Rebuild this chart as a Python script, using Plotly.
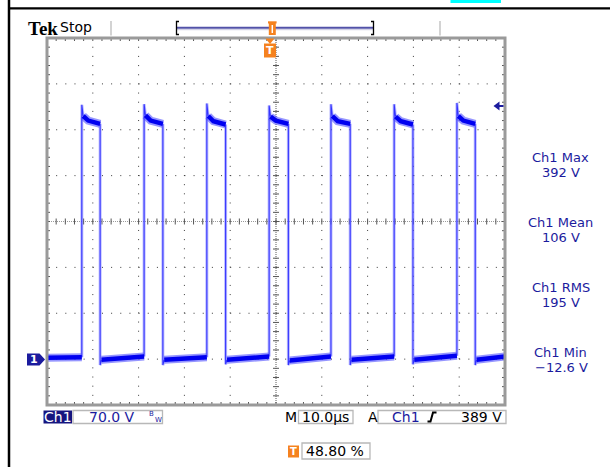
import plotly.graph_objects as go

# ---------------- data read from the scope screen ----------------
# time in microseconds (screen = 10 div x 10 us), voltage in volts (70 V/div)
rise_us = [7.6, 21.2, 34.9, 48.5, 62.0, 75.8, 89.5]
fall_us = [11.6, 25.3, 39.0, 52.7, 66.2, 79.9, 93.5]
peak_v = [388, 389, 390, 387, 389, 389, 391]
high_start_v = [371, 372, 371, 370, 371, 370, 371]
high_mid_v = [364, 364, 363, 364, 363, 363, 364]
high_end_v = [359, 359, 358, 359, 359, 358, 359]
undershoot_v = [-9, -9, -8, -9, -9, -8, -9]
low_start_v = [2, -1, -1, -1, -2, -1, -1, -1]
low_end_v = [3, 4, 3, 4, 4, 4, 5, 4]

time_range_us = [0, 100]
volt_range = [-70, 490]
us_per_div = 10
v_per_div = 70
ground_v = 0

readout_labels = ["Ch1 Max", "Ch1 Mean", "Ch1 RMS", "Ch1 Min"]
readout_values = ["392 V", "106 V", "195 V", "\u221212.6 V"]
ch_scale_text = "70.0 V"
time_scale_text = "10.0\u00b5s"
trig_level_text = "389 V"
trig_pos_text = "48.80 %"

# ---------------- build waveform from the arrays ----------------
n = len(rise_us)
low_x, low_y = [], []
for k in range(n + 1):
    t0 = time_range_us[0] if k == 0 else fall_us[k - 1] + 0.3
    t1 = rise_us[k] if k < n else time_range_us[1]
    low_x += [t0, t1, None]
    low_y += [low_start_v[k], low_end_v[k], None]

high_x, high_y = [], []
edge_x, edge_y = [], []
for k in range(n):
    r, f = rise_us[k], fall_us[k]
    high_x += [r + 0.3, r + 0.35 * (f - r), f, None]
    high_y += [high_start_v[k], high_mid_v[k], high_end_v[k], None]
    edge_x += [r, r, r + 0.3, None, f, f, f + 0.3, None]
    edge_y += [low_end_v[k], peak_v[k], high_start_v[k], None,
               high_end_v[k], undershoot_v[k], low_start_v[k + 1], None]

NAVY = "#1b1b9e"
ORANGE = "#f5821f"
FONT = "DejaVu Sans"

fig = go.Figure()
fig.add_trace(go.Scatter(x=edge_x, y=edge_y, mode="lines",
                         line=dict(color="rgba(120,120,255,0.5)", width=3),
                         hoverinfo="skip"))
fig.add_trace(go.Scatter(x=edge_x, y=edge_y, mode="lines",
                         line=dict(color="#3434ff", width=1.1), hoverinfo="skip"))
for xs, ys in [(low_x, low_y), (high_x, high_y)]:
    fig.add_trace(go.Scatter(x=xs, y=ys, mode="lines",
                             line=dict(color="rgba(80,80,255,0.6)", width=8),
                             hoverinfo="skip"))
    fig.add_trace(go.Scatter(x=xs, y=ys, mode="lines",
                             line=dict(color="#0000f0", width=4.5),
                             hoverinfo="skip"))

# ---------------- layout geometry ----------------
W, H = 610, 467
L, T, PW, PH = 47, 38, 458, 367


def fx(px):
    return (px - L) / PW


def fy(py):
    return 1 - (py - T) / PH


shapes = []
x0, x1 = time_range_us
y0, y1 = volt_range
xc = (x0 + x1) / 2
yc = (y0 + y1) / 2
tx = 3 * (x1 - x0) / PW   # 3 px in data units
ty = 3 * (y1 - y0) / PH
dot_dash = "1px,%.2fpx" % (PW / 50 - 1)

# dotted graticule
for i in range(1, 10):
    if i == 5:
        continue
    xv = x0 + i * us_per_div
    shapes.append(dict(type="line", xref="x", yref="y", x0=xv, x1=xv, y0=y0, y1=y1,
                       line=dict(color="#3a3a3a", width=1, dash=dot_dash), layer="below"))
for j in range(1, 8):
    if j == 4:
        continue
    yv = y0 + j * v_per_div
    shapes.append(dict(type="line", xref="x", yref="y", x0=x0, x1=x1, y0=yv, y1=yv,
                       line=dict(color="#3a3a3a", width=1, dash=dot_dash), layer="below"))
# centre cross
shapes.append(dict(type="line", xref="x", yref="y", x0=xc, x1=xc, y0=y0, y1=y1,
                   line=dict(color="#5a5a5a", width=1, dash="1px,1px"), layer="below"))
shapes.append(dict(type="line", xref="x", yref="y", x0=x0, x1=x1, y0=yc, y1=yc,
                   line=dict(color="#9a9a9a", width=1, dash="1px,1px"), layer="below"))
# minor ticks
for k in range(0, 51):
    xv = x0 + k * us_per_div / 5
    for (a, b) in [(yc - ty, yc + ty), (y0, y0 + ty), (y1 - ty, y1)]:
        shapes.append(dict(type="line", xref="x", yref="y", x0=xv, x1=xv, y0=a, y1=b,
                           line=dict(color="#555555", width=1), layer="below"))
for k in range(0, 41):
    yv = y0 + k * v_per_div / 5
    for (a, b) in [(xc - tx, xc + tx), (x0, x0 + tx), (x1 - tx, x1)]:
        shapes.append(dict(type="line", xref="x", yref="y", x0=a, x1=b, y0=yv, y1=yv,
                           line=dict(color="#555555", width=1), layer="below"))

# frame
shapes.append(dict(type="rect", xref="paper", yref="paper", x0=0, x1=1, y0=0, y1=1,
                   line=dict(color="#9a9a9a", width=3)))

# outer black border lines and cyan tab
shapes.append(dict(type="line", xref="paper", yref="paper", x0=fx(9), x1=fx(9), y0=fy(0), y1=fy(H),
                   line=dict(color="black", width=2.5)))
shapes.append(dict(type="line", xref="paper", yref="paper", x0=fx(9), x1=fx(W), y0=fy(8.3), y1=fy(8.3),
                   line=dict(color="black", width=2.2)))
shapes.append(dict(type="rect", xref="paper", yref="paper", x0=fx(450.5), x1=fx(501), y0=fy(0), y1=fy(3),
                   line=dict(width=0), fillcolor="#00ffff"))

# top bar separators and record bracket
for sx in [111, 440]:
    shapes.append(dict(type="line", xref="paper", yref="paper", x0=fx(sx), x1=fx(sx), y0=fy(21), y1=fy(35.5),
                       line=dict(color="#c4c4c4", width=1.5)))
shapes.append(dict(type="line", xref="paper", yref="paper", x0=fx(177), x1=fx(373), y0=fy(27.7), y1=fy(27.7),
                   line=dict(color="#5252a8", width=2)))
shapes.append(dict(type="line", xref="paper", yref="paper", x0=fx(177), x1=fx(373), y0=fy(29.7), y1=fy(29.7),
                   line=dict(color="#c8c8e0", width=1)))
for bx, d in [(176.5, 1), (373.5, -1)]:
    shapes.append(dict(type="path", xref="paper", yref="paper",
                       path="M %f %f L %f %f L %f %f L %f %f" % (
                           fx(bx + 2.5 * d), fy(21.5), fx(bx), fy(21.5), fx(bx), fy(34.5), fx(bx + 2.5 * d), fy(34.5)),
                       line=dict(color="black", width=1.3)))

# trigger position marker (top)
shapes.append(dict(type="rect", xref="paper", yref="paper", x0=fx(268.8), x1=fx(275.8), y0=fy(35), y1=fy(23),
                   line=dict(width=0), fillcolor=ORANGE))
shapes.append(dict(type="rect", xref="paper", yref="paper", x0=fx(268), x1=fx(276.6), y0=fy(23.5), y1=fy(21.3),
                   line=dict(width=0), fillcolor=ORANGE))
shapes.append(dict(type="line", xref="paper", yref="paper", x0=fx(272.3), x1=fx(272.3), y0=fy(25), y1=fy(33),
                   line=dict(color="white", width=1.5)))
# trigger T marker below bar
shapes.append(dict(type="path", xref="paper", yref="paper",
                   path="M %f %f L %f %f L %f %f Z" % (fx(265.5), fy(38.5), fx(274.5), fy(38.5), fx(270), fy(44)),
                   line=dict(width=0), fillcolor=ORANGE))
shapes.append(dict(type="rect", xref="paper", yref="paper", x0=fx(264), x1=fx(276), y0=fy(57.5), y1=fy(43.5),
                   line=dict(width=0), fillcolor=ORANGE))

# ground marker
shapes.append(dict(type="path", xref="paper", yref="paper",
                   path="M %f %f L %f %f L %f %f L %f %f L %f %f Z" % (
                       fx(27), fy(353.5), fx(39.5), fy(353.5), fx(45), fy(359.5), fx(39.5), fy(365.5), fx(27), fy(365.5)),
                   line=dict(width=0), fillcolor=NAVY))

# trigger level arrow (right)
shapes.append(dict(type="path", xref="paper", yref="paper",
                   path="M %f %f L %f %f L %f %f Z" % (fx(493.5), fy(106), fx(499.5), fy(101.5), fx(499.5), fy(110.5)),
                   line=dict(width=0), fillcolor=NAVY))
shapes.append(dict(type="line", xref="paper", yref="paper", x0=fx(498), x1=fx(503.5), y0=fy(106), y1=fy(106),
                   line=dict(color=NAVY, width=2)))

# bottom status boxes
shapes.append(dict(type="rect", xref="paper", yref="paper", x0=fx(43.5), x1=fx(72), y0=fy(423.5), y1=fy(410.5),
                   line=dict(width=0), fillcolor="#15157f"))
for (a, b, c, d) in [(73, 162.5, 410.5, 423.5), (298.5, 353, 410.5, 423.5),
                     (378, 506, 410.5, 423.5), (302, 370, 443, 459)]:
    shapes.append(dict(type="rect", xref="paper", yref="paper", x0=fx(a), x1=fx(b), y0=fy(d), y1=fy(c),
                       line=dict(color="#b8b8b8", width=1.3)))
shapes.append(dict(type="rect", xref="paper", yref="paper", x0=fx(288), x1=fx(299), y0=fy(457.5), y1=fy(445.5),
                   line=dict(width=0), fillcolor=ORANGE))
# trigger slope icon
shapes.append(dict(type="path", xref="paper", yref="paper",
                   path="M %f %f L %f %f L %f %f L %f %f" % (
                       fx(427.5), fy(421.5), fx(430.5), fy(421.5), fx(433), fy(412.5), fx(436.5), fy(412.5)),
                   line=dict(color="black", width=2)))

ann = []


def text(x, y, s, size=14, color="black", xanchor="center", family=FONT, bold=False):
    ann.append(dict(xref="paper", yref="paper", x=fx(x), y=fy(y), text=("<b>%s</b>" % s) if bold else s,
                    showarrow=False, xanchor=xanchor, yanchor="middle",
                    font=dict(family=family, size=size, color=color)))


text(25.5, 28, "Tek", size=19, family="Liberation Serif", xanchor="left", bold=True)
text(57.5, 27.5, "Stop", size=14, xanchor="left")
text(270, 50.8, "T", size=11, color="white", bold=True)
text(33.5, 359.5, "1", size=11, color="white", bold=True)

for i, (lab, val) in enumerate(zip(readout_labels, readout_values)):
    text(560.5, 157.2 + 65 * i, lab, size=13, color=NAVY)
    text(561, 172.2 + 65 * i, val, size=13, color=NAVY)

text(57.8, 417, "Ch1", size=14, color="white")
text(112, 417, ch_scale_text, size=14, color=NAVY)
text(151.5, 413.5, "B", size=7, color=NAVY)
text(158, 419.5, "W", size=7, color=NAVY)
text(291, 417, "M", size=14)
text(325.8, 417, time_scale_text, size=14)
text(372.5, 417, "A", size=14)
text(390, 417, "Ch1", size=14, color=NAVY, xanchor="left")
text(504, 417, trig_level_text, size=14, xanchor="right")
text(293.5, 451.5, "T", size=10, color="white", bold=True)
text(304, 451, trig_pos_text, size=14, xanchor="left")

fig.update_layout(
    width=W, height=H,
    margin=dict(l=L, r=W - L - PW, t=T, b=H - T - PH, pad=0),
    paper_bgcolor="white", plot_bgcolor="white",
    showlegend=False, hovermode=False,
    xaxis=dict(range=time_range_us, showgrid=False, zeroline=False, showticklabels=False,
               ticks="", showline=False, fixedrange=True),
    yaxis=dict(range=volt_range, showgrid=False, zeroline=False, showticklabels=False,
               ticks="", showline=False, fixedrange=True),
    shapes=shapes, annotations=ann,
)

fig.write_html("out.html", config={"displayModeBar": False})
